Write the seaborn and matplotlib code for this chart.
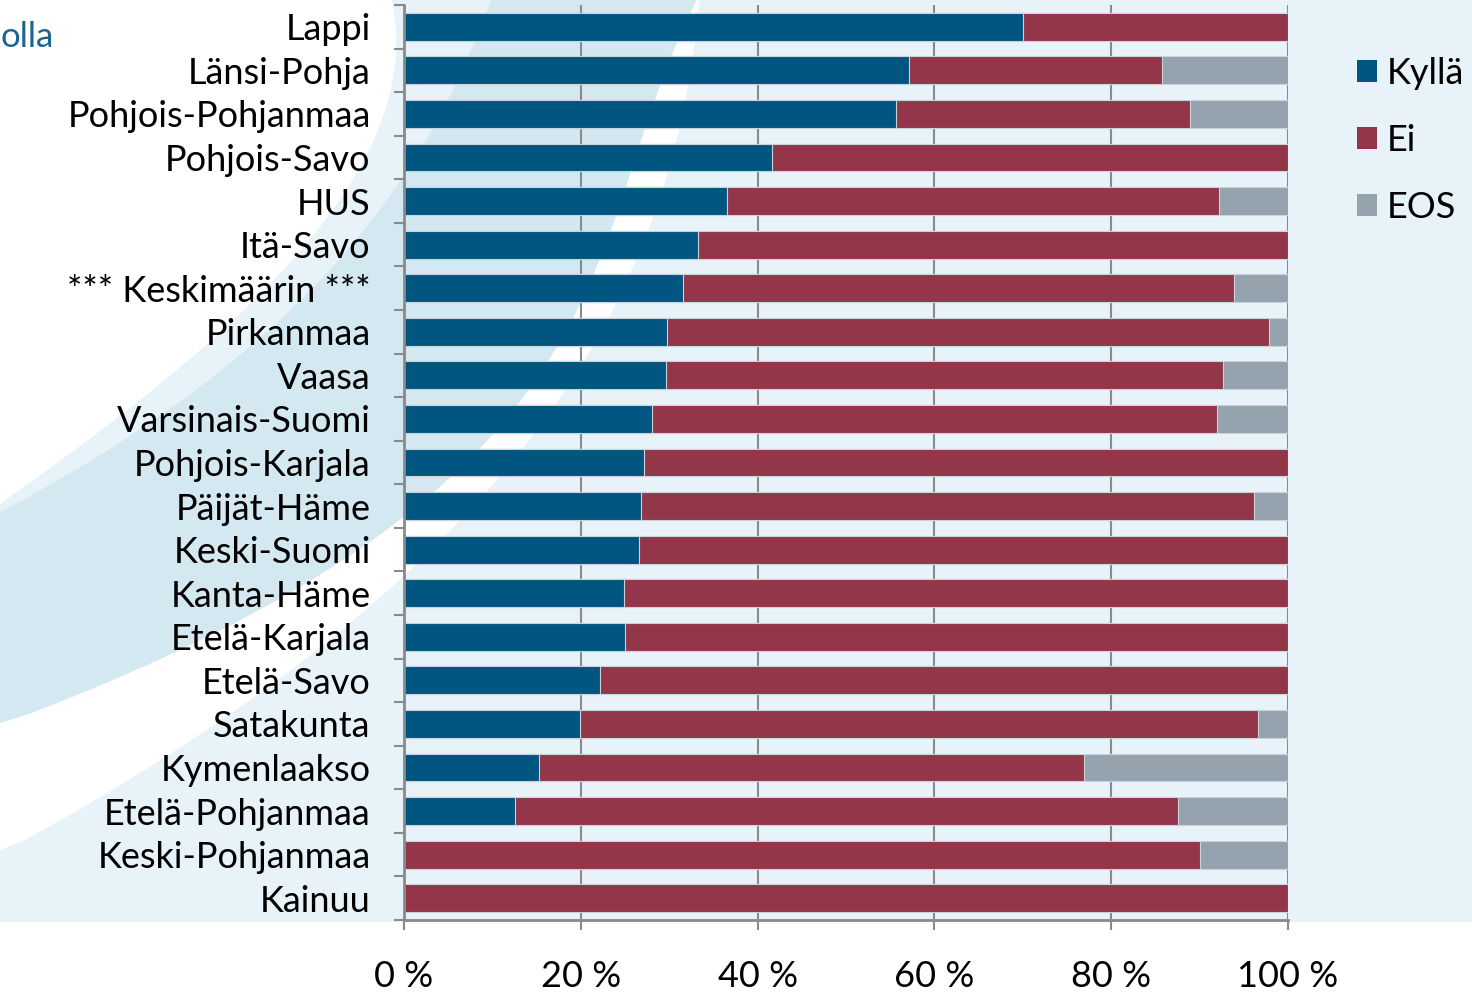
import numpy as np
import pandas as pd
import matplotlib
matplotlib.use("Agg")
import matplotlib.pyplot as plt
from matplotlib.patches import Polygon, Rectangle, Patch
import seaborn as sns

# ---------------- data ----------------
regions = ["Lappi", "Länsi-Pohja", "Pohjois-Pohjanmaa", "Pohjois-Savo", "HUS", "Itä-Savo",
           "*** Keskimäärin ***", "Pirkanmaa", "Vaasa", "Varsinais-Suomi", "Pohjois-Karjala",
           "Päijät-Häme", "Keski-Suomi", "Kanta-Häme", "Etelä-Karjala", "Etelä-Savo",
           "Satakunta", "Kymenlaakso", "Etelä-Pohjanmaa", "Keski-Pohjanmaa", "Kainuu"]
kylla = [70.0, 57.1, 55.6, 41.6, 36.5, 33.3, 31.6, 29.8, 29.6, 28.0, 27.2,
         26.8, 26.6, 24.9, 25.0, 22.2, 19.9, 15.3, 12.5, 0.0, 0.0]
ei = [30.0, 28.6, 33.3, 58.4, 55.7, 66.7, 62.3, 68.1, 63.0, 64.0, 72.8,
      69.4, 73.4, 75.1, 75.0, 77.8, 76.7, 61.6, 75.0, 90.0, 100.0]
eos = [0.0, 14.3, 11.1, 0.0, 7.8, 0.0, 6.1, 2.1, 7.4, 8.0, 0.0,
       3.8, 0.0, 0.0, 0.0, 0.0, 3.4, 23.1, 12.5, 10.0, 0.0]
series_names = ["Kyllä", "Ei", "EOS"]
x_ticks = [0, 20, 40, 60, 80, 100]
x_ticklabels = ["0 %", "20 %", "40 %", "60 %", "80 %", "100 %"]

colors = {"Kyllä": "#005581", "Ei": "#93364a", "EOS": "#94a3ad"}

df = pd.DataFrame({"region": regions, "Kyllä": kylla, "Ei": ei, "EOS": eos})
df["cum_ei"] = df["Kyllä"] + df["Ei"]
df["cum_eos"] = df["cum_ei"] + df["EOS"]

# ---------------- figure ----------------
W, H = 1472, 992
fig = plt.figure(figsize=(W / 100, H / 100), dpi=100)
fig.patch.set_facecolor("white")
plt.rcParams["font.family"] = ["Lato", "DejaVu Sans"]
FS = 26

def fx(x):
    return x / W

def fy(y):
    return 1 - y / H

# decorative background
LIGHT = "#e7f3f8"
DARK = "#d4e8f1"
fig.patches.append(Rectangle((0, fy(922)), 1, 922 / H, transform=fig.transFigure,
                             facecolor=LIGHT, edgecolor="none", zorder=-10))

def band(pts, color, z):
    pts = np.array(pts, dtype=float)
    ys = pts[:, 1]
    xs = pts[:, 0]
    coef = np.polyfit(ys, xs, 3)
    yy = np.linspace(-5, ys.max(), 80)
    xx = np.polyval(coef, yy)
    xx[-1] = 0
    poly = [(fx(a), fy(b)) for a, b in zip(xx, yy)]
    poly += [(0, fy(ys.max())), (0, fy(-5))]
    fig.patches.append(Polygon(poly, closed=True, transform=fig.transFigure,
                               facecolor=color, edgecolor="none", zorder=z))

curveD = [(698, 0), (670, 167), (609, 333), (491, 475), (448, 527), (359, 617), (189, 750), (0, 850)]
curveC = [(694, 0), (642, 167), (557, 333), (460, 460), (396, 527), (255, 617), (0, 723)]
curveB = [(491, 0), (410, 167), (264, 333), (110, 450), (0, 512)]
curveA = [(392, 0), (359, 167), (222, 333), (71, 450), (0, 505)]
band(curveD, "white", -9)
band(curveC, DARK, -8)
band(curveB, LIGHT, -7)
band(curveA, "white", -6)

fig.text(fx(1), fy(47), "olla", color="#1a6592", fontsize=25, ha="left", va="baseline")

# ---------------- axes ----------------
ax = fig.add_axes([fx(404), fy(920), fx(1288) - fx(404), (920 - 5) / H])
ax.patch.set_alpha(0)

bar_w = 0.64
lw = 0.8
edge = "#c9d3da"
sns.barplot(data=df, x="cum_eos", y="region", orient="h", color=colors["EOS"],
            width=bar_w, edgecolor=edge, linewidth=lw, saturation=1, ax=ax)
sns.barplot(data=df, x="cum_ei", y="region", orient="h", color=colors["Ei"],
            width=bar_w, edgecolor=edge, linewidth=lw, saturation=1, ax=ax)
sns.barplot(data=df, x="Kyllä", y="region", orient="h", color=colors["Kyllä"],
            width=bar_w, edgecolor=edge, linewidth=lw, saturation=1, ax=ax)

ax.set_xlim(0, 100)
ax.set_ylim(len(regions) - 0.5, -0.5)
ax.set_xlabel("")
ax.set_ylabel("")

GRAY = "#8a8a8a"
ax.set_axisbelow(True)
ax.grid(axis="x", color=GRAY, linewidth=1.5)
ax.grid(axis="y", visible=False)
for s in ["top", "right"]:
    ax.spines[s].set_visible(False)
for s in ["left", "bottom"]:
    ax.spines[s].set_color(GRAY)
    ax.spines[s].set_linewidth(2)

ax.set_xticks(x_ticks)
ax.set_xticklabels(x_ticklabels)
ax.tick_params(axis="x", length=7.5, width=1.5, color=GRAY, pad=21, labelsize=FS, labelcolor="black")

ax.set_yticks(np.arange(len(regions)))
ax.set_yticklabels(regions)
ax.set_yticks(np.arange(len(regions) + 1) - 0.5, minor=True)
ax.tick_params(axis="y", which="major", length=0, pad=24, labelsize=FS, labelcolor="black")
ax.tick_params(axis="y", which="minor", length=7.5, width=1.5, color=GRAY)

handles = [Patch(facecolor=colors[n], edgecolor="none") for n in series_names]
fig.legend(handles, series_names, loc="upper left", bbox_to_anchor=(fx(1357), fy(57)),
           frameon=False, fontsize=FS, handlelength=0.56, handleheight=0.56,
           handletextpad=0.25, labelspacing=0.94, borderpad=0, borderaxespad=0)

fig.savefig("out.png", dpi=100, facecolor="white")
